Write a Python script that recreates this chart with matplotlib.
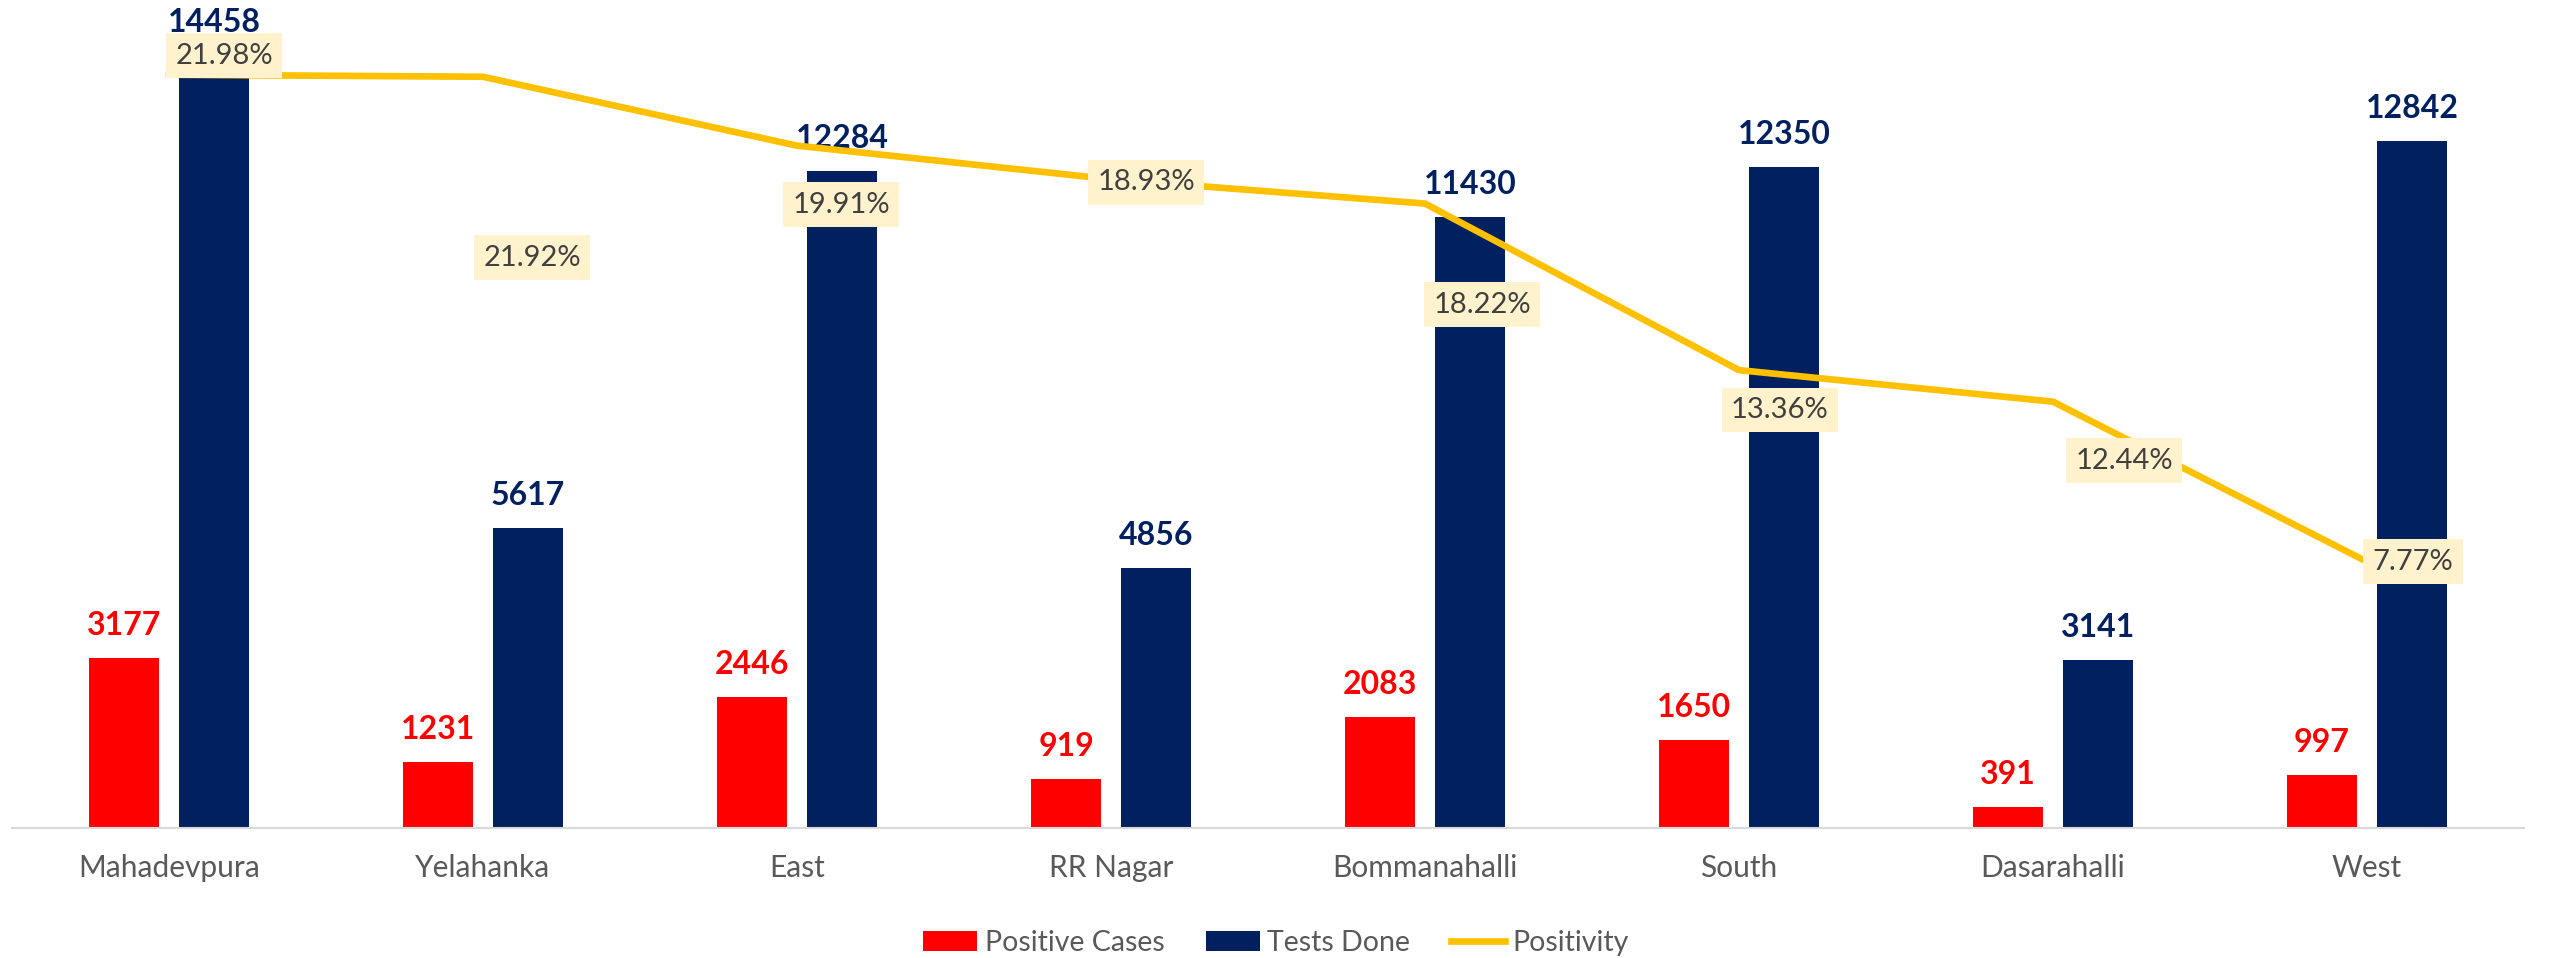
import matplotlib.pyplot as plt
import numpy as np

# Datos del grafico
zonas = ["Mahadevpura", "Yelahanka", "East", "RR Nagar", "Bommanahalli", "South", "Dasarahalli", "West"]
casos_positivos = [3177, 1231, 2446, 919, 2083, 1650, 391, 997]
tests_hechos = [14458, 5617, 12284, 4856, 11430, 12350, 3141, 12842]
positividad = [21.98, 21.92, 19.91, 18.93, 18.22, 13.36, 12.44, 7.77]

# desplazamiento de las etiquetas de positividad (pixeles)
desplaz_etiquetas = [(55, 19), (49, -181), (44, -59), (35, -3), (57, -101), (41, -40), (71, -59), (46, 0)]

ROJO = "#FF0000"
AZUL = "#002060"
ORO = "#FFC000"
GRIS = "#595959"

plt.rcParams['font.family'] = ['Lato', 'DejaVu Sans']

fig = plt.figure(figsize=(25.52, 9.58), dpi=100)
ax = fig.add_axes([12 / 2552, 130 / 958, 2512 / 2552, 828 / 958])

x = np.arange(len(zonas))
ancho = 0.226
sep = 0.1433

b1 = ax.bar(x - sep, casos_positivos, ancho, color=ROJO, label="Positive Cases", zorder=2)
b2 = ax.bar(x + sep, tests_hechos, ancho, color=AZUL, label="Tests Done", zorder=2)
ax.bar_label(b1, padding=13, color=ROJO, fontsize=23, fontweight='bold')
ax.bar_label(b2, padding=13, color=AZUL, fontsize=23, fontweight='bold')

ax.set_xlim(-0.5, len(zonas) - 0.5)
ax.set_ylim(0, 15480)
ax.set_xticks(x)
ax.set_xticklabels(zonas, fontsize=21.5, color=GRIS)
ax.tick_params(axis='x', length=0, pad=19)
ax.set_yticks([])
for lado in ['top', 'left', 'right']:
    ax.spines[lado].set_visible(False)
ax.spines['bottom'].set_color("#D9D9D9")
ax.spines['bottom'].set_linewidth(1.5)

ax2 = ax.twinx()
linea, = ax2.plot(x, np.array(positividad) / 100, color=ORO, linewidth=4.8, label="Positivity",
                  solid_joinstyle='miter')
ax2.set_ylim(0, 0.2416)
ax2.set_yticks([])
for lado in ['top', 'left', 'right', 'bottom']:
    ax2.spines[lado].set_visible(False)

for i, v in enumerate(positividad):
    dx, dy = desplaz_etiquetas[i]
    ax2.annotate(f"{v:.2f}%", (x[i], v / 100), xytext=(dx, dy), textcoords='offset pixels',
                 ha='center', va='center', fontsize=21, color="#404040",
                 bbox=dict(boxstyle='square,pad=0.32', fc="#FFF2CC", ec='none'), zorder=5)

fig.legend(handles=[b1, b2, linea], loc='center', bbox_to_anchor=(0.5, 1 - 943 / 958),
           ncol=3, frameon=False, fontsize=20.5, labelcolor=GRIS,
           handlelength=1.9, handleheight=0.7, handletextpad=0.25, columnspacing=1.45)

fig.savefig("out.png", dpi=100)
